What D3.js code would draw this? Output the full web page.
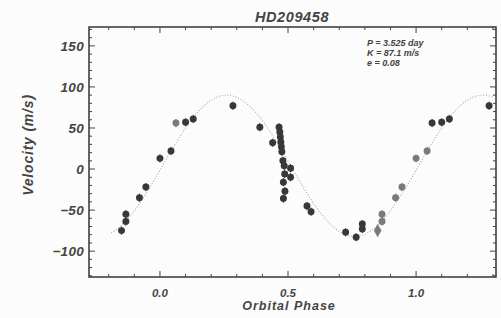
<!DOCTYPE html>
<html>
<head>
<meta charset="utf-8">
<script src="https://cdn.jsdelivr.net/npm/d3@7"></script>
<style>
  body { margin: 0; background: #fcfcfc; }
  svg text { font-family: "Liberation Sans", Arial, sans-serif; font-weight: bold; font-style: italic; fill: #444; }
</style>
</head>
<body>
<div id="app"></div>
<script>
// orbital phase (0..1) and radial velocity (m/s) of each observation
const phases = [0.000, 0.043, 0.0625, 0.100, 0.130, 0.285, 0.390, 0.440,
  0.465, 0.468, 0.470, 0.472, 0.474, 0.476, 0.480, 0.485, 0.510, 0.487, 0.510,
  0.482, 0.488, 0.482, 0.574, 0.590, 0.725, 0.766, 0.790, 0.790,
  0.850, 0.867, 0.867, 0.920, 0.945];
const velocities = [13, 22, 56, 57, 61, 77, 51, 32,
  51, 45, 39, 33, 27, 21, 10, 4, 1, -6, -10,
  -16, -27, -36, -45, -52, -77, -83, -67, -73,
  -75, -55, -64, -35, -22];
// 0 = dark circle, 1 = light circle, 2 = light diamond
const kinds = [0, 0, 1, 0, 0, 0, 0, 0,
  0, 0, 0, 0, 0, 0, 0, 0, 0, 0, 0,
  0, 0, 0, 0, 0, 0, 0, 0, 0,
  2, 1, 1, 1, 1];

const yTicks = [-100, -50, 0, 50, 100, 150];
const xTicks = [0.0, 0.5, 1.0];
const fitLines = ["P = 3.525 day", "K = 87.1 m/s", "e = 0.08"];
// fitted orbit: systemic offset, semi-amplitude, phase of zero crossing
const gamma = 4, K = 86, phi0 = 0.01;

const width = 501, height = 318;
const mLeft = 89, mRight = 496, mTop = 27, mBottom = 277;

const x = d3.scaleLinear().domain([-0.277, 1.312]).range([mLeft, mRight]);
const y = d3.scaleLinear().domain([-131.5, 173]).range([mBottom, mTop]);

const svg = d3.select("#app").append("svg")
  .attr("width", width).attr("height", height);

// model curve, dotted
const curvePhases = d3.range(-0.19, 1.305, 0.003);
const line = d3.line()
  .x(p => x(p))
  .y(p => y(gamma + K * Math.sin(2 * Math.PI * (p - phi0))));
svg.append("path")
  .attr("d", line(curvePhases))
  .attr("fill", "none")
  .attr("stroke", "#a8a8a8")
  .attr("stroke-width", 1.1)
  .attr("stroke-dasharray", "1,1.8");

// fold points so the repeated phases show outside 0..1
let pts = [];
phases.forEach((p, i) => {
  [-1, 0, 1].forEach(s => {
    let ph = p + s;
    if (ph < -0.2 || ph > 1.3) return;
    let k = kinds[i];
    if (s == -1) k = 0;
    if (s == 1) k = ph < 1.06 ? 1 : 0;
    pts.push({ ph: ph, v: velocities[i], k: k });
  });
});

const shade = k => k == 0 ? "#383838" : "#7a7a7a";

svg.append("g").selectAll("line")
  .data(pts)
  .join("line")
  .attr("x1", d => x(d.ph)).attr("x2", d => x(d.ph))
  .attr("y1", d => y(d.v + 5)).attr("y2", d => y(d.v - 5))
  .attr("stroke", d => shade(d.k))
  .attr("stroke-width", 1);

svg.append("g").selectAll("path")
  .data(pts)
  .join("path")
  .attr("transform", d => `translate(${x(d.ph)},${y(d.v)})`)
  .attr("d", d => d3.symbol().type(d.k == 2 ? d3.symbolDiamond : d3.symbolCircle).size(d.k == 2 ? 50 : 38)())
  .attr("fill", d => shade(d.k));

// frame
svg.append("rect")
  .attr("x", mLeft).attr("y", mTop)
  .attr("width", mRight - mLeft).attr("height", mBottom - mTop)
  .attr("fill", "none").attr("stroke", "#333").attr("stroke-width", 1.5);

// inward ticks on all four sides
const yMinor = d3.range(-130, 171, 10);
const xMinor = d3.range(-0.2, 1.31, 0.1);
const tickG = svg.append("g").attr("stroke", "#444").attr("stroke-width", 1);
yMinor.forEach(v => {
  let len = v % 50 == 0 ? 6 : 3;
  tickG.append("line").attr("x1", mLeft).attr("x2", mLeft + len).attr("y1", y(v)).attr("y2", y(v));
  tickG.append("line").attr("x1", mRight).attr("x2", mRight - len).attr("y1", y(v)).attr("y2", y(v));
});
xMinor.forEach(p => {
  let len = Math.abs(p * 2 - Math.round(p * 2)) < 1e-6 ? 6 : 3;
  tickG.append("line").attr("x1", x(p)).attr("x2", x(p)).attr("y1", mBottom).attr("y2", mBottom - len);
  tickG.append("line").attr("x1", x(p)).attr("x2", x(p)).attr("y1", mTop).attr("y2", mTop + len);
});

// tick labels
svg.append("g").selectAll("text")
  .data(yTicks)
  .join("text")
  .attr("x", mLeft - 5).attr("y", d => y(d) + 5)
  .attr("text-anchor", "end")
  .attr("font-size", 13.5)
  .attr("letter-spacing", 0.3)
  .text(d => d < 0 ? "\u2212" + Math.abs(d) : d);

svg.append("g").selectAll("text")
  .data(xTicks)
  .join("text")
  .attr("x", d => x(d)).attr("y", 297)
  .attr("text-anchor", "middle")
  .attr("font-size", 11.5)
  .text(d => d.toFixed(1));

// titles
svg.append("text")
  .attr("x", 292).attr("y", 22)
  .attr("text-anchor", "middle")
  .attr("font-size", 14.5)
  .attr("letter-spacing", 0.6)
  .text("HD209458");

svg.append("text")
  .attr("x", 289).attr("y", 310)
  .attr("text-anchor", "middle")
  .attr("font-size", 12.5)
  .attr("letter-spacing", 1)
  .text("Orbital Phase");

svg.append("text")
  .attr("transform", "translate(33,145) rotate(-90)")
  .attr("text-anchor", "middle")
  .attr("font-size", 14)
  .attr("letter-spacing", 0.8)
  .text("Velocity (m/s)");

svg.append("g").selectAll("text")
  .data(fitLines)
  .join("text")
  .attr("x", 367).attr("y", (d, i) => 46 + i * 10)
  .attr("font-size", 9)
  .text(d => d);
</script>
</body>
</html>
